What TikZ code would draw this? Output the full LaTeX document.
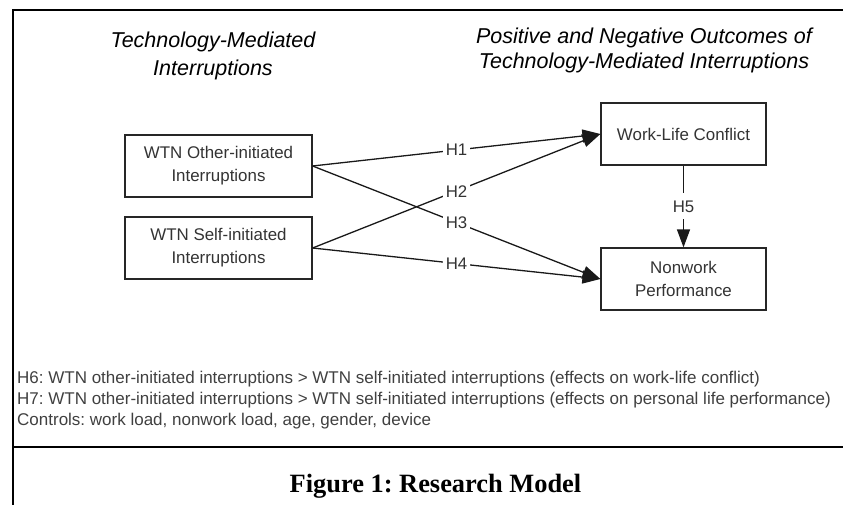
\documentclass[tikz,border=0pt]{standalone}
\usepackage{fontspec}
\setmainfont{Liberation Serif}
\setsansfont{Liberation Sans}
\usetikzlibrary{arrows.meta}
\frenchspacing
\begin{document}
\begin{tikzpicture}[x=1pt,y=-1pt,
  titletxt/.style={font=\sffamily\itshape\fontsize{21.5}{28}\selectfont, align=center, text=black},
  varbox/.style={draw=black!85, line width=1.2pt, minimum height=62pt, inner sep=0pt,
    font=\sffamily\fontsize{16.9}{23}\selectfont, align=center, text=black!80},
  link/.style={draw=black!90, line width=1.3pt, -{Triangle[length=18pt,width=13pt]}},
  hlabel/.style={fill=white, font=\sffamily\fontsize{16.8}{20}\selectfont, text=black!80,
    inner xsep=3pt, inner ysep=7pt, text height=12pt, text depth=0pt},
  notetxt/.style={font=\sffamily\fontsize{17}{20}\selectfont, text=black!75, inner sep=0pt, anchor=base west},
  frameline/.style={line width=2pt, black}
]
\useasboundingbox (0,0) rectangle (843,505);
% frame
\coordinate (fTL) at (13,10);
\coordinate (fTR) at (843,10);
\coordinate (fBL) at (13,505);
\coordinate (sL) at (13,447);
\coordinate (sR) at (843,447);
\draw[frameline] (fTR) -- (fTL) -- (fBL);
\draw[frameline] (sL) -- (sR);
% titles
\node[titletxt] (tleft) at (213,56) {Technology-Mediated\\Interruptions};
\node[titletxt, font=\sffamily\itshape\fontsize{21.5}{25}\selectfont] (tright) at (644,50.5) {Positive and Negative Outcomes of\\Technology-Mediated Interruptions};
% boxes
\node[varbox, minimum width=187pt] (oth) at (218.5,166) {WTN Other-initiated\\Interruptions};
\node[varbox, minimum width=187pt] (self) at (218.5,248) {WTN Self-initiated\\Interruptions};
\node[varbox, minimum width=165pt] (wlc) at (683.5,134) {Work-Life Conflict};
\node[varbox, minimum width=165pt] (np) at (683.5,279) {Nonwork\\Performance};
% links
\draw[link] (oth.east) -- node[hlabel] (h1) {H1} (wlc.west);
\draw[link] (self.east) -- node[hlabel] (h2) {H2} (wlc.west);
\draw[link] (oth.east) -- node[hlabel] (h3) {H3} (np.west);
\draw[link] (self.east) -- node[hlabel] (h4) {H4} (np.west);
\draw[link] (wlc.south) -- node[hlabel] (h5) {H5} (np.north);
% notes
\node[notetxt] (n6) at (17,383) {H6: WTN other-initiated interruptions > WTN self-initiated interruptions (effects on work-life conflict)};
\node[notetxt] (n7) at (17,404) {H7: WTN other-initiated interruptions > WTN self-initiated interruptions (effects on personal life performance)};
\node[notetxt] (nc) at (17,425) {Controls: work load, nonwork load, age, gender, device};
% caption
\node[font=\rmfamily\bfseries\fontsize{26.4}{30}\selectfont, anchor=base, inner sep=0pt] (cap) at (435.5,492) {Figure 1: Research Model};
\end{tikzpicture}
\end{document}
